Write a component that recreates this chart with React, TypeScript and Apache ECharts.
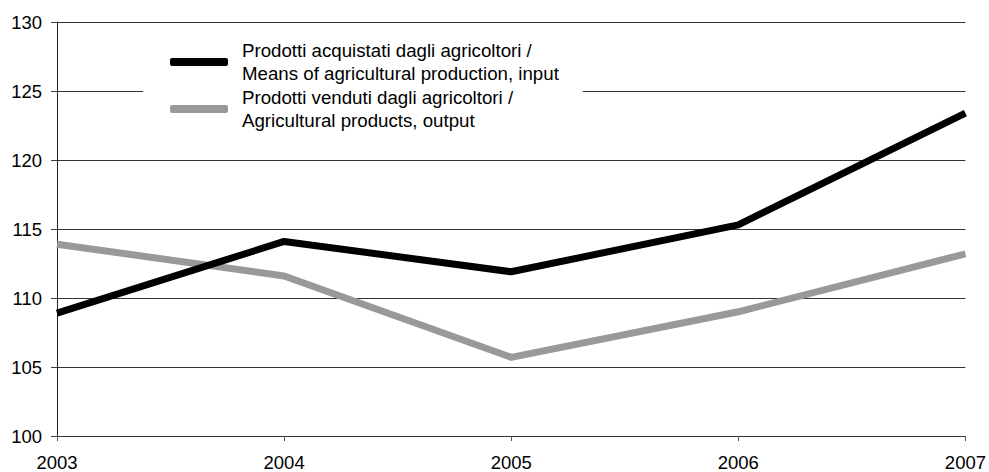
import React, { useEffect, useRef } from "react";
import * as echarts from "echarts";

const years = ["2003", "2004", "2005", "2006", "2007"];
const inputSeriesName = "Prodotti acquistati dagli agricoltori /\nMeans of agricultural production, input";
const outputSeriesName = "Prodotti venduti dagli agricoltori /\nAgricultural products, output";
const inputValues = [108.9, 114.1, 111.9, 115.3, 123.4];
const outputValues = [113.9, 111.6, 105.7, 109.0, 113.2];
const yTicks = { min: 100, max: 130, interval: 5 };

const FONT = "'Liberation Sans', Arial, sans-serif";

export default function App() {
  const ref = useRef<HTMLDivElement>(null);
  useEffect(() => {
    if (!ref.current) return;
    const chart = echarts.init(ref.current, undefined, { renderer: "svg" });
    chart.setOption({
      animation: false,
      backgroundColor: "#fff",
      textStyle: { fontFamily: FONT },
      grid: { left: 57, right: 22, top: 22, bottom: 34, containLabel: false },
      legend: {
        orient: "vertical",
        left: 143,
        top: 30,
        padding: [9, 24, 10, 27],
        backgroundColor: "#fff",
        itemGap: 1,
        itemWidth: 58,
        itemHeight: 8,
        icon: "roundRect",
        itemStyle: { borderWidth: 0 },
        textStyle: {
          fontFamily: FONT,
          fontSize: 18.7,
          lineHeight: 23,
          color: "#000",
          padding: [0, 0, 0, 9],
        },
        data: [inputSeriesName, outputSeriesName],
      },
      xAxis: {
        type: "category",
        boundaryGap: false,
        data: years,
        axisLine: { lineStyle: { color: "#333", width: 1 } },
        axisTick: { show: true, length: 5, lineStyle: { color: "#555" } },
        axisLabel: { fontFamily: FONT, fontSize: 18.5, color: "#000", margin: 17 },
        splitLine: { show: false },
      },
      yAxis: {
        type: "value",
        min: yTicks.min,
        max: yTicks.max,
        interval: yTicks.interval,
        axisLine: { show: true, lineStyle: { color: "#222", width: 1 } },
        axisTick: { show: true, length: 6, lineStyle: { color: "#444" } },
        axisLabel: { fontFamily: FONT, fontSize: 18.5, color: "#000", margin: 15 },
        splitLine: { show: true, lineStyle: { color: "#333", width: 1 } },
      },
      series: [
        {
          name: inputSeriesName,
          type: "line",
          data: inputValues,
          color: "#000",
          symbol: "none",
          lineStyle: { color: "#000", width: 7 },
          z: 3,
        },
        {
          name: outputSeriesName,
          type: "line",
          data: outputValues,
          color: "#999",
          symbol: "none",
          lineStyle: { color: "#999", width: 7 },
          z: 2,
        },
      ],
    });
    return () => chart.dispose();
  }, []);
  return <div ref={ref} style={{ width: 989, height: 472, position: "absolute", left: 0, top: 0 }} />;
}
